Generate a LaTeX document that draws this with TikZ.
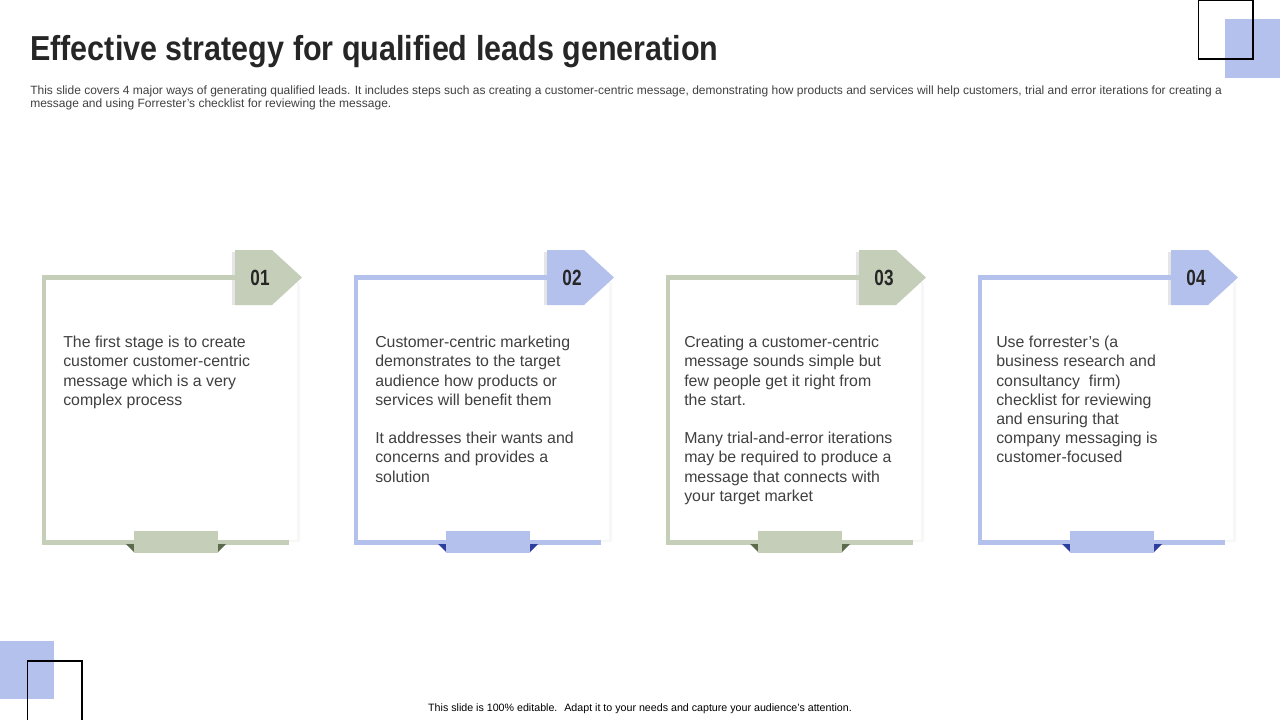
\documentclass[tikz,border=0pt]{standalone}
\usepackage{fontspec}
\setmainfont{Liberation Sans}
\newfontfamily\condfont[FakeStretch=0.88]{Liberation Sans}
\newfontfamily\numfont[FakeStretch=0.78]{Liberation Sans}
\usetikzlibrary{positioning}
\definecolor{sage}{HTML}{C5CEB8}
\definecolor{sagedark}{HTML}{5E6A4C}
\definecolor{lilac}{HTML}{B4C1EC}
\definecolor{lilacdark}{HTML}{2E3E9C}
\definecolor{bodytext}{HTML}{404040}
\definecolor{titletext}{HTML}{262626}

\begin{document}
\begin{tikzpicture}[x=0.75pt,y=-0.75pt,
		card/.style={fill=white, inner sep=0pt, minimum width=187.5pt, minimum height=195.75pt},
		frame/.style={line width=3.4pt, miter limit=10},
		tab/.style={inner sep=0pt, minimum width=63pt, minimum height=16.5pt},
		num/.style={font=\numfont\bfseries\fontsize{16.5}{16.5}\selectfont, text=titletext},
		body/.style={anchor=north west, align=left, inner sep=0pt, text=bodytext,
			font=\fontsize{11.9}{14.4}\selectfont},
		note/.style={anchor=base west, inner sep=0pt, text=bodytext,
			font=\fontsize{9}{10}\selectfont}]
	\useasboundingbox (0,0) rectangle (1280,720);
	
	% corner squares
	\fill[lilac] (1225,19) rectangle (1280,78);
	\draw[line width=0.8pt] (1198.5,0.5) rectangle (1253,59);
	\fill[lilac] (0,641) rectangle (54,699);
	\draw[line width=0.8pt] (27.5,661) rectangle (82,725);
	
	% heading
	\node[anchor=base west, inner sep=0pt, text=titletext,
		font=\condfont\bfseries\fontsize{26}{26}\selectfont] (title) at (30,61)
		{Effective strategy for qualified leads generation};
	\node[note] (sub1) at (30,95) {This slide covers 4 major ways of generating qualified leads. It includes steps such as creating a customer-centric message, demonstrating how products and services will help customers, trial and error iterations for creating a};
	\node[note] (sub2) at (30,108) {message and using Forrester's checklist for reviewing the message.};
	
	% cards
	\foreach \i/\x/\c/\d in {1/41/sage/sagedark, 2/353/lilac/lilacdark, 3/665/sage/sagedark, 4/977/lilac/lilacdark} {
		\fill[black!3] (\x+9,282) rectangle (\x+259,542);
		\node[card] (card\i) at (\x+131,409.5) {};
		\fill[black!10] (\x+191,252) rectangle (\x+194,305);
		\fill[\c] (\x+194,250) -- (\x+231,250) -- (\x+261,277.5) -- (\x+231,305) -- (\x+194,305) -- cycle;
		\draw[frame, \c] (\x+194,277.5) -- (\x+3,277.5) -- (\x+3,542.5) -- (\x+248,542.5);
		\fill[\d] (\x+85,544) -- (\x+93,544) -- (\x+93,552) -- cycle;
		\fill[\d] (\x+177,544) -- (\x+185,544) -- (\x+177,552) -- cycle;
		\node[tab, fill=\c] (tab\i) at (\x+135,542) {};
		\node[num] (num\i) at (\x+219,278) {0\i};
	}
	
	\node[body] (text1) at (63,336) {The first stage is to create\\customer customer-centric\\message which is a very\\complex process};
	\node[body] (text2) at (375,336) {Customer-centric marketing\\demonstrates to the target\\audience how products or\\services will benefit them\\[14.4pt]It addresses their wants and\\concerns and provides a\\solution};
	\node[body] (text3) at (684,336) {Creating a customer-centric\\message sounds simple but\\few people get it right from\\the start.\\[14.4pt]Many trial-and-error iterations\\may be required to produce a\\message that connects with\\your target market};
	\node[body] (text4) at (996,336) {Use forrester’s (a\\business research and\\consultancy~ firm)\\checklist for reviewing\\and ensuring that\\company messaging is\\customer-focused};
	
	% footer
	\node[anchor=base, inner sep=0pt, text=black, font=\fontsize{8}{9}\selectfont] (foot) at (640,711)
		{This slide is 100\% editable.~ Adapt it to your needs and capture your audience's attention.};
\end{tikzpicture}
\end{document}
